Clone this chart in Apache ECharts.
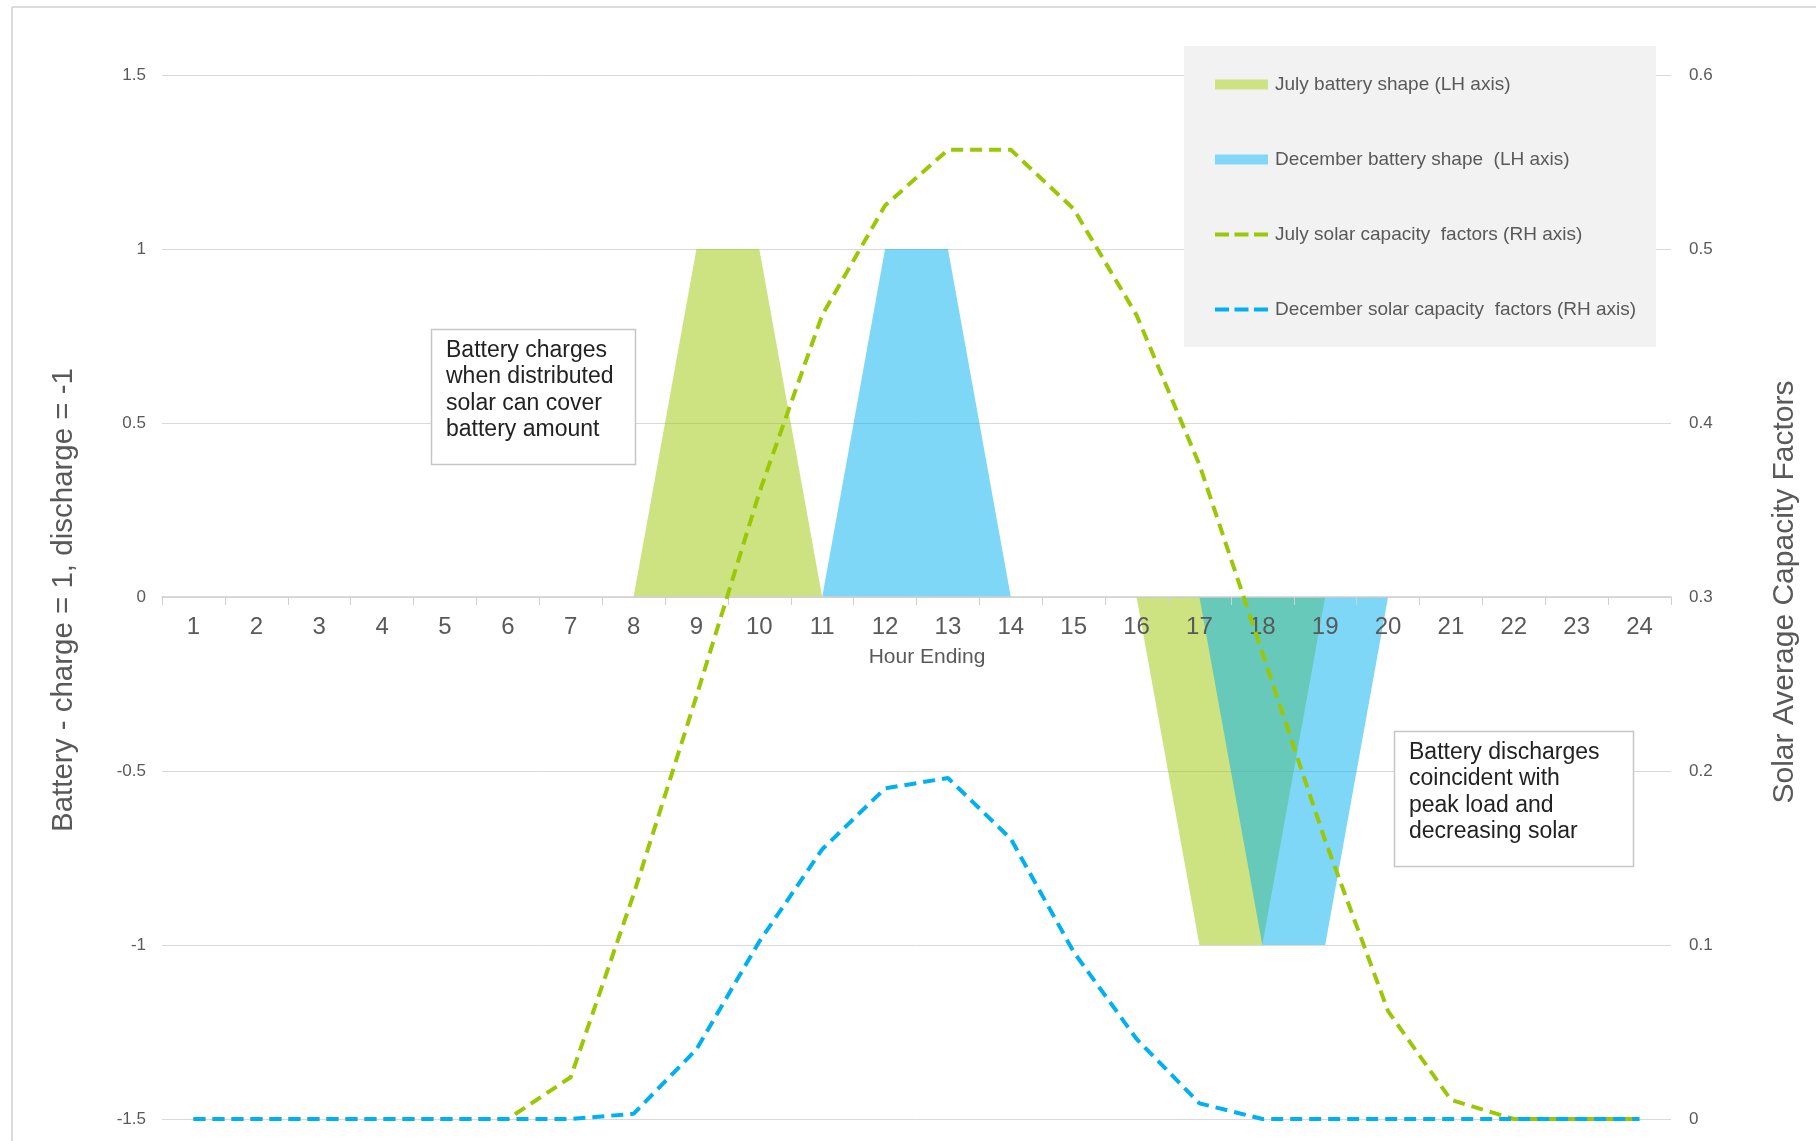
<!DOCTYPE html>
<html>
<head>
<meta charset="utf-8">
<script src="https://cdn.jsdelivr.net/npm/echarts@6/dist/echarts.min.js"></script>
<style>
html,body{margin:0;padding:0;background:#fff;}
#c{width:1816px;height:1141px;}
</style>
</head>
<body>
<div id="c"></div>
<script>
const hours = ['1','2','3','4','5','6','7','8','9','10','11','12','13','14','15','16','17','18','19','20','21','22','23','24'];
const julyBattery = [0,0,0,0,0,0,0,0,1,1,0,0,0,0,0,0,-1,-1,0,0,0,0,0,0];
const decBattery  = [0,0,0,0,0,0,0,0,0,0,0,1,1,0,0,0,0,-1,-1,0,0,0,0,0];
const julySolar = [0,0,0,0,0,0,0.024,0.129,0.243,0.36,0.462,0.525,0.557,0.557,0.523,0.462,0.376,0.268,0.16,0.062,0.011,0,0,0];
const decSolar  = [0,0,0,0,0,0,0,0.003,0.04,0.102,0.155,0.19,0.196,0.161,0.096,0.046,0.009,0,0,0,0,0,0,0];
const seriesNames = ['July battery shape (LH axis)','December battery shape  (LH axis)','July solar capacity  factors (RH axis)','December solar capacity  factors (RH axis)'];
const leftTitle = 'Battery - charge = 1, discharge = -1';
const rightTitle = 'Solar Average Capacity Factors';
const xTitle = 'Hour Ending';
const note1 = 'Battery charges\nwhen distributed\nsolar can cover\nbattery amount';
const note2 = 'Battery discharges\ncoincident with\npeak load and\ndecreasing solar';

const FONT = "'Liberation Sans', Arial, sans-serif";
const GREEN = '#9bc705';
const BLUE = '#00b0f0';
const GRAY = '#595959';

const GRID_TOP = 75, GRID_BOTTOM = 22, H = 1141;
// x axis sits at the left axis' zero line (middle of -1.5..1.5)
const xOffset = -((H - GRID_TOP - GRID_BOTTOM) / 2);

const chart = echarts.init(document.getElementById('c'), null, {renderer:'canvas'});
chart.setOption({
  animation:false,
  backgroundColor:'#ffffff',
  grid:{left:162, right:145, top:GRID_TOP, bottom:GRID_BOTTOM, containLabel:false, outerBoundsMode:'none'},
  xAxis:{
    type:'category', data:hours, boundaryGap:true, position:'bottom', offset:xOffset, z:6,
    axisLine:{onZero:false, lineStyle:{color:'#d0d0d0', width:1.5}},
    axisTick:{show:true, interval:0, length:8, lineStyle:{color:'#d0d0d0'}},
    axisLabel:{interval:0, color:GRAY, fontFamily:FONT, fontSize:24, margin:18},
    splitLine:{show:false}
  },
  yAxis:[
    {type:'value', min:-1.5, max:1.5, interval:0.5, position:'left',
     axisLine:{show:false}, axisTick:{show:false},
     axisLabel:{color:GRAY, fontFamily:FONT, fontSize:17, margin:16},
     splitLine:{show:true, lineStyle:{color:'#d9d9d9', width:1}}},
    {type:'value', min:0, max:0.6, interval:0.1, position:'right',
     axisLine:{show:false}, axisTick:{show:false},
     axisLabel:{color:GRAY, fontFamily:FONT, fontSize:17, margin:18},
     splitLine:{show:false}}
  ],
  legend:{
    orient:'vertical', left:1213, top:75, padding:0, itemGap:56,
    itemWidth:53, itemHeight:10, z:10,
    textStyle:{color:GRAY, fontFamily:FONT, fontSize:19, padding:[0,0,0,2]},
    data:[
      {name:seriesNames[0], icon:'rect', itemStyle:{color:'#cde383', opacity:1}},
      {name:seriesNames[1], icon:'rect', itemStyle:{color:'#80d7f7', opacity:1}},
      {name:seriesNames[2], itemStyle:{color:'rgba(0,0,0,0)', borderWidth:0}, lineStyle:{color:GREEN, width:4, type:[14,5.5]}},
      {name:seriesNames[3], itemStyle:{color:'rgba(0,0,0,0)', borderWidth:0}, lineStyle:{color:BLUE, width:4, type:[14,5.5]}}
    ]
  },
  series:[
    {name:seriesNames[0], type:'line', yAxisIndex:0, data:julyBattery, symbol:'none', z:2,
     lineStyle:{width:0, color:GREEN}, itemStyle:{color:GREEN},
     areaStyle:{color:GREEN, opacity:0.5}},
    {name:seriesNames[1], type:'line', yAxisIndex:0, data:decBattery, symbol:'none', z:2,
     lineStyle:{width:0, color:BLUE}, itemStyle:{color:BLUE},
     areaStyle:{color:BLUE, opacity:0.5}},
    {name:seriesNames[2], type:'line', yAxisIndex:1, data:julySolar, symbol:'none', z:7,
     lineStyle:{width:4, color:GREEN, type:[12,7]}, itemStyle:{color:GREEN}},
    {name:seriesNames[3], type:'line', yAxisIndex:1, data:decSolar, symbol:'none', z:8,
     lineStyle:{width:4, color:BLUE, type:[12,7]}, itemStyle:{color:BLUE}}
  ],
  graphic:[
    {type:'line', z:1, shape:{x1:12,y1:7,x2:1816,y2:7}, style:{stroke:'#dcdcdc', lineWidth:2}},
    {type:'line', z:1, shape:{x1:12,y1:7,x2:12,y2:1141}, style:{stroke:'#dcdcdc', lineWidth:2}},
    {type:'rect', z:1, shape:{x:1184,y:46,width:472,height:301}, style:{fill:'#f2f2f2'}},
    {type:'rect', z:5, shape:{x:431.5,y:329.5,width:204,height:135}, style:{fill:'#ffffff', stroke:'#c6c6c6', lineWidth:1.5}},
    {type:'text', z:6, x:446, y:337, style:{text:note1, fill:'#222222', font:'23px '+FONT, lineHeight:26.6, textAlign:'left', textVerticalAlign:'top'}},
    {type:'rect', z:5, shape:{x:1394.5,y:731.5,width:239,height:135}, style:{fill:'#ffffff', stroke:'#c6c6c6', lineWidth:1.5}},
    {type:'text', z:6, x:1409, y:739, style:{text:note2, fill:'#222222', font:'23px '+FONT, lineHeight:26.6, textAlign:'left', textVerticalAlign:'top'}},
    {type:'text', z:6, x:64, y:600, rotation:Math.PI/2, style:{text:leftTitle, fill:GRAY, font:'29.5px '+FONT, textAlign:'center', textVerticalAlign:'middle'}},
    {type:'text', z:6, x:1785, y:592, rotation:Math.PI/2, style:{text:rightTitle, fill:GRAY, font:'30px '+FONT, textAlign:'center', textVerticalAlign:'middle'}},
    {type:'text', z:6, x:927, y:657, style:{text:xTitle, fill:GRAY, font:'21px '+FONT, textAlign:'center', textVerticalAlign:'middle'}}
  ]
});
</script>
</body>
</html>
